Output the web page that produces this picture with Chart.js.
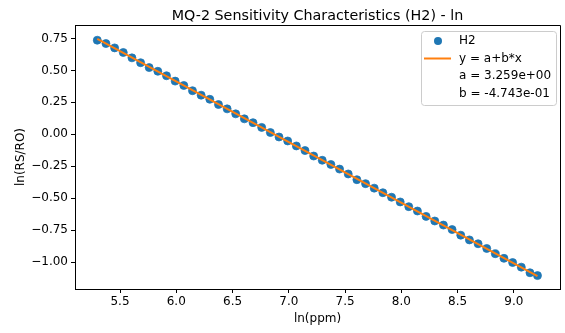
<!DOCTYPE html>
<html>
<head>
<meta charset="utf-8">
<script src="https://cdn.jsdelivr.net/npm/chart.js@4/dist/chart.umd.min.js"></script>
<style>
  html, body { margin: 0; padding: 0; background: #fff; }
  #wrap { width: 565px; height: 333px; }
</style>
</head>
<body>
<div id="wrap"><canvas id="chart" width="565" height="333"></canvas></div>
<script>
// measured points: ln(ppm) vs ln(RS/RO)
const lnPpm = [5.298, 5.375, 5.452, 5.529, 5.606, 5.683, 5.759, 5.836, 5.913, 5.990,
  6.067, 6.144, 6.221, 6.298, 6.375, 6.452, 6.528, 6.605, 6.682, 6.759,
  6.836, 6.913, 6.990, 7.067, 7.144, 7.221, 7.297, 7.374, 7.451, 7.528,
  7.605, 7.682, 7.759, 7.836, 7.913, 7.990, 8.066, 8.143, 8.220, 8.297,
  8.374, 8.451, 8.528, 8.605, 8.682, 8.759, 8.835, 8.912, 8.989, 9.066,
  9.143, 9.210];
const lnRsRo = [0.736, 0.710, 0.676, 0.640, 0.598, 0.560, 0.522, 0.493, 0.458, 0.416,
  0.382, 0.341, 0.306, 0.274, 0.233, 0.199, 0.160, 0.121, 0.091, 0.054,
  0.014, -0.021, -0.052, -0.091, -0.127, -0.170, -0.203, -0.236, -0.272, -0.310,
  -0.355, -0.386, -0.421, -0.457, -0.492, -0.529, -0.566, -0.600, -0.642, -0.678,
  -0.710, -0.745, -0.789, -0.826, -0.856, -0.893, -0.934, -0.970, -1.003, -1.039,
  -1.083, -1.105];

// fitted line y = a + b*x, end points
const fitX = [5.298, 9.210];
const fitY = [0.746, -1.109];
const fitA = "3.259e+00";
const fitB = "-4.743e-01";

const xTicks = [5.5, 6.0, 6.5, 7.0, 7.5, 8.0, 8.5, 9.0];
const yTicks = [0.75, 0.50, 0.25, 0.00, -0.25, -0.50, -0.75, -1.00];

const FONT = "'DejaVu Sans', sans-serif";
const blue = "#1f77b4";
const orange = "#ff7f0e";
const titleText = "MQ-2 Sensitivity Characteristics (H2) - ln";

const fmt = (v, d) => v.toFixed(d).replace("-", "\u2212");

// top + right spines, title centred over the axes
const frame = {
  id: "frame",
  afterDatasetsDraw(chart) {
    const { ctx, chartArea: a } = chart;
    ctx.save();
    ctx.strokeStyle = "#000";
    ctx.lineWidth = 1;
    ctx.beginPath();
    ctx.moveTo(a.left, a.top + 0.5);
    ctx.lineTo(a.right + 0.5, a.top + 0.5);
    ctx.lineTo(a.right + 0.5, a.bottom);
    ctx.stroke();
    ctx.fillStyle = "#000";
    ctx.font = "14.3px " + FONT;
    ctx.textAlign = "center";
    ctx.textBaseline = "alphabetic";
    ctx.fillText(titleText, (a.left + a.right) / 2, 19.5);
    ctx.restore();
  }
};

// matplotlib-like legend box, upper right
const mplLegend = {
  id: "mplLegend",
  afterDraw(chart) {
    const { ctx, chartArea: a } = chart;
    const w = 135, h = 74;
    const x0 = a.right - 4 - w, y0 = a.top + 6;
    ctx.save();
    ctx.beginPath();
    ctx.roundRect(x0 + 0.5, y0 + 0.5, w, h, 3);
    ctx.fillStyle = "rgba(255,255,255,0.8)";
    ctx.fill();
    ctx.strokeStyle = "#cccccc";
    ctx.lineWidth = 1;
    ctx.stroke();

    const rows = [y0 + 10, y0 + 27.5, y0 + 45, y0 + 62.5];
    const tx = x0 + 38;
    // H2 marker
    ctx.fillStyle = blue;
    ctx.beginPath();
    ctx.arc(x0 + 17, rows[0], 4, 0, Math.PI * 2);
    ctx.fill();
    // fit line handle
    ctx.strokeStyle = orange;
    ctx.lineWidth = 2;
    ctx.beginPath();
    ctx.moveTo(x0 + 3, rows[1]);
    ctx.lineTo(x0 + 30, rows[1]);
    ctx.stroke();

    ctx.fillStyle = "#000";
    ctx.font = "12px " + FONT;
    ctx.textBaseline = "middle";
    ctx.textAlign = "left";
    const labels = ["H2", "y = a+b*x", "a = " + fitA, "b = " + fitB];
    labels.forEach((t, i) => ctx.fillText(t, tx, rows[i]));
    ctx.restore();
  }
};

new Chart(document.getElementById("chart"), {
  type: "scatter",
  data: {
    datasets: [
      {
        label: "y = a+b*x",
        type: "line",
        data: fitX.map((x, i) => ({ x: x, y: fitY[i] })),
        borderColor: orange,
        borderWidth: 2,
        pointRadius: 0,
        fill: false,
        order: 0
      },
      {
        label: "H2",
        data: lnPpm.map((x, i) => ({ x: x, y: lnRsRo[i] })),
        backgroundColor: blue,
        borderColor: "rgba(31,119,180,0.75)",
        borderWidth: 1,
        pointRadius: 4,
        order: 1
      }
    ]
  },
  options: {
    responsive: false,
    animation: false,
    layout: { padding: { left: 10, right: 2, top: 25, bottom: 4 } },
    plugins: {
      legend: { display: false },
      tooltip: { enabled: false },
      title: { display: false }
    },
    scales: {
      x: {
        type: "linear",
        min: 5.10,
        max: 9.41,
        afterBuildTicks: s => { s.ticks = xTicks.map(v => ({ value: v })); },
        afterFit: s => { s.height = 40; },
        ticks: {
          color: "#000",
          font: { family: FONT, size: 12 },
          padding: 2,
          callback: v => fmt(v, 1)
        },
        grid: { drawOnChartArea: false, drawTicks: true, tickLength: 4, color: "#000" },
        border: { display: true, color: "#000", width: 1 },
        title: {
          display: true,
          text: "ln(ppm)",
          color: "#000",
          font: { family: FONT, size: 12 },
          padding: { top: 2, bottom: 3.3 }
        }
      },
      y: {
        type: "linear",
        min: -1.21,
        max: 0.855,
        afterBuildTicks: s => { s.ticks = yTicks.map(v => ({ value: v })); },
        afterFit: s => { s.width = 65; },
        ticks: {
          color: "#000",
          font: { family: FONT, size: 12 },
          padding: 3,
          callback: v => fmt(v, 2)
        },
        grid: { drawOnChartArea: false, drawTicks: true, tickLength: 4, color: "#000" },
        border: { display: true, color: "#000", width: 1 },
        title: {
          display: true,
          text: "ln(RS/RO)",
          color: "#000",
          font: { family: FONT, size: 12 },
          padding: { top: 4, bottom: 4 }
        }
      }
    }
  },
  plugins: [frame, mplLegend]
});
</script>
</body>
</html>
